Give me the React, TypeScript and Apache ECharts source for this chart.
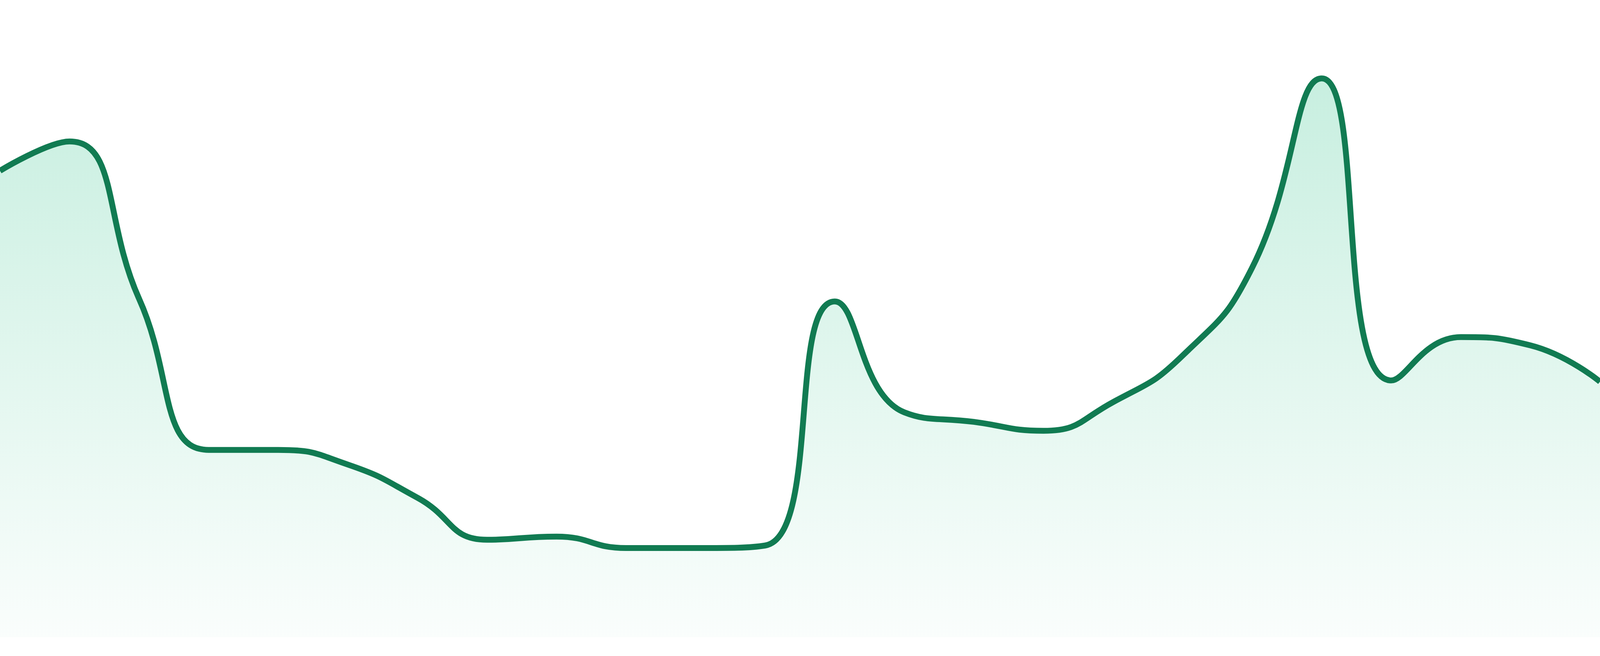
import React, { useEffect, useRef } from "react";
import * as echarts from "echarts";

// 24 samples, evenly spaced across the full width
const categories = [
  "01", "02", "03", "04", "05", "06", "07", "08", "09", "10", "11", "12",
  "13", "14", "15", "16", "17", "18", "19", "20", "21", "22", "23", "24",
];

const values = [
  73.2, 77.8, 53.1, 29.4, 29.4, 27.1, 21.9, 15.3, 15.8, 14.0, 14.0, 14.4,
  52.7, 35.3, 33.8, 32.4, 36.9, 44.2, 58.0, 87.7, 40.3, 47.1, 45.8, 40.1,
];

const SparkArea: React.FC = () => {
  const chartRef = useRef<HTMLDivElement | null>(null);

  useEffect(() => {
    if (!chartRef.current) return;
    const chart = echarts.init(chartRef.current, undefined, { renderer: "svg" });

    chart.setOption({
      animation: false,
      grid: { left: 0, right: 0, top: 0, bottom: 48 },
      xAxis: {
        type: "category",
        data: categories,
        boundaryGap: false,
        show: false,
      },
      yAxis: {
        type: "value",
        min: 0,
        max: 100,
        show: false,
      },
      series: [
        {
          type: "line",
          data: values,
          smooth: true,
          symbol: "none",
          lineStyle: { color: "#117b52", width: 15 },
          areaStyle: {
            color: new echarts.graphic.LinearGradient(0, 0, 0, 1, [
              { offset: 0, color: "rgba(16, 185, 120, 0.33)" },
              { offset: 1, color: "rgba(16, 185, 120, 0.03)" },
            ]),
          },
        },
      ],
    });

    const handleResize = () => chart.resize();
    window.addEventListener("resize", handleResize);

    return () => {
      window.removeEventListener("resize", handleResize);
      chart.dispose();
    };
  }, []);

  return (
    <div
      ref={chartRef}
      style={{
        position: "absolute",
        left: 0,
        top: 0,
        width: "100vw",
        height: "100vh",
        background: "#ffffff",
      }}
    />
  );
};

export default function App() {
  return <SparkArea />;
}
